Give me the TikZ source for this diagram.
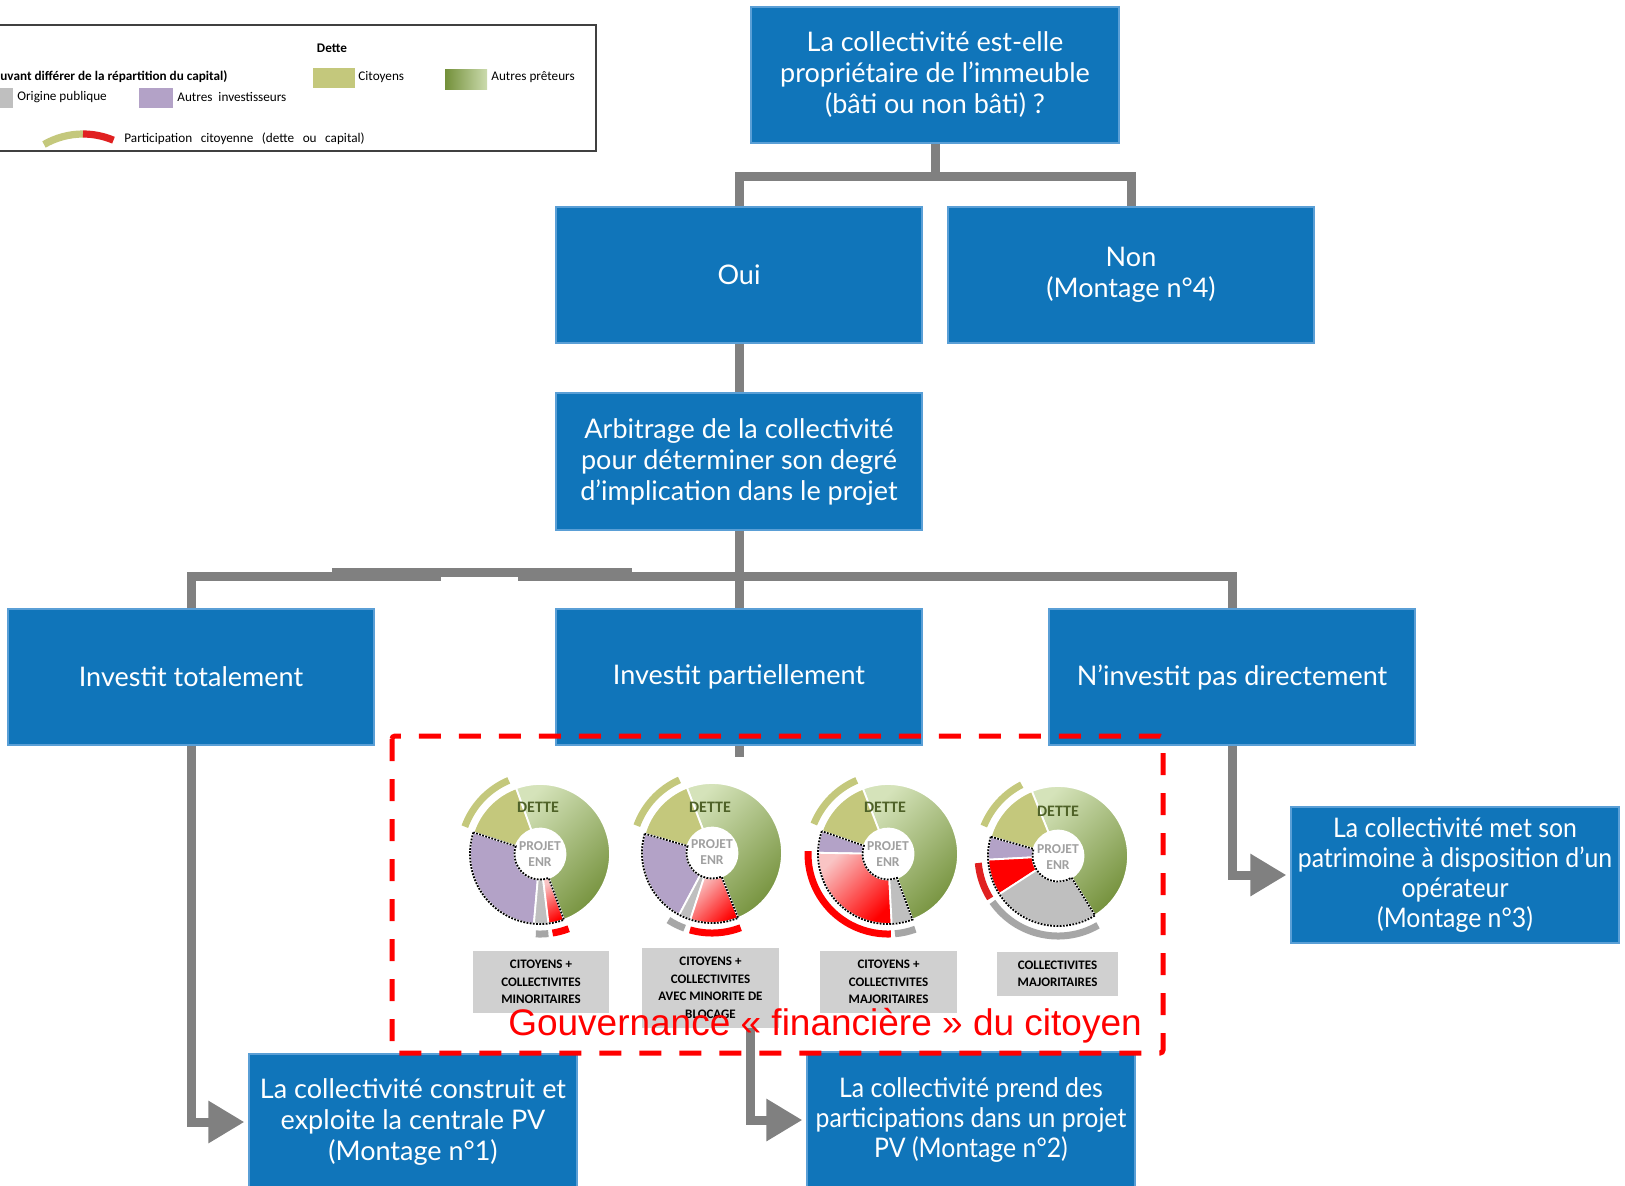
\documentclass[tikz,border=0pt]{standalone}
\usepackage{fontspec}
\setmainfont{Carlito}
\newfontfamily\boxfont{Lato}
\newfontfamily\boxfontn[FakeStretch=0.92]{Lato}
\newfontfamily\calib{Carlito}
\newfontfamily\arialf{Liberation Sans}
\usetikzlibrary{arrows.meta,calc}
\definecolor{bblue}{HTML}{1075BA}
\definecolor{bedge}{HTML}{5A9FD6}
\definecolor{cgray}{HTML}{808080}
\definecolor{olv}{HTML}{C4C87C}
\definecolor{glight}{HTML}{D5E3BA}
\definecolor{gdark}{HTML}{73903A}
\definecolor{purp}{HTML}{B3A2C7}
\definecolor{sgray}{HTML}{BFBFBF}
\definecolor{pinkl}{HTML}{F9C4C4}
\definecolor{mred}{HTML}{FF0000}
\definecolor{lred}{HTML}{E02020}
\definecolor{mgray}{HTML}{A6A6A6}
\definecolor{lgray}{HTML}{D0D0D0}
\definecolor{dolive}{HTML}{4F6228}
\definecolor{pgray}{HTML}{A0A0A0}
\newcommand\pseg[5]{%
  \path[#5] ($(#1,#2)+({-(#3)}:70)$) arc[start angle={-(#3)}, end angle={-(#4)}, radius=70]
    -- ($(#1,#2)+({-(#4)}:25.5)$) arc[start angle={-(#4)}, end angle={-(#3)}, radius=25.5] -- cycle;}
\newcommand\parc[5]{%
  \draw[#5] ($(#1,#2)+({-(#3)}:80)$) arc[start angle={-(#3)}, end angle={-(#4)}, radius=80];}
\tikzset{
  box/.style={fill=bblue, draw=bedge, line width=0.6pt, text=white, align=center,
    font={\boxfont\fontsize{13.5pt}{15.5pt}\selectfont}, inner sep=0pt, minimum height=68pt},
  boxn/.style={box, font={\boxfontn\fontsize{13.5pt}{15pt}\selectfont}},
  conn/.style={draw=cgray, line width=4.5pt},
  arr/.style={draw=cgray, line width=4.5pt, -{Triangle[length=18pt,width=20pt]}, shorten >=2pt},
  lab/.style={fill=lgray, font={\calib\bfseries\fontsize{6.5pt}{8.75pt}\selectfont}, align=center, inner sep=0pt},
  leg/.style={font={\calib\fontsize{6.6pt}{8pt}\selectfont}, inner sep=0pt, anchor=west},
  seg/.style={draw=white, line width=0.9pt},
  dots/.style={draw=black, line width=0.9pt, dash pattern=on 0.9pt off 0.7pt},
  mk/.style={line width=3.5pt},
  grn/.style={seg, top color=glight, middle color=gdark!60!glight, bottom color=gdark, shading angle=45},
  dette/.style={font={\calib\bfseries\fontsize{8pt}{9pt}\selectfont}, text=dolive, inner sep=0pt},
  proj/.style={font={\calib\bfseries\fontsize{6.8pt}{8.3pt}\selectfont}, text=pgray, align=center, inner sep=0pt}
}
\begin{document}
\begin{tikzpicture}[x=0.5pt, y=-0.5pt]
\useasboundingbox (0,0) rectangle (1625,1185);
\fill[white] (0,0) rectangle (1625,1185);

% ---- legend ----
\draw[black!75, line width=0.6pt] (-5,25) rectangle (596,151);
\node[font={\calib\bfseries\fontsize{6.6pt}{8pt}\selectfont}, inner sep=0pt] (ldette) at (332,48) {Dette};
\node[leg, font={\calib\bfseries\fontsize{6.6pt}{8pt}\selectfont}] (lcap) at (0,77) {uvant différer de la répartition du capital)};
\fill[sgray] (-2,88) rectangle (13,108);
\node[leg] (lpub) at (17,97) {Origine publique};
\fill[purp] (139,88) rectangle (173,108);
\node[leg] (linv) at (177,97) {Autres\hspace{0.45em}investisseurs};
\fill[olv] (313,68) rectangle (355,88);
\node[leg] (lcit) at (358,77) {Citoyens};
\shade[left color=gdark, middle color=gdark!55!glight, right color=glight!90!gdark] (445,69) rectangle (487,89);
\node[leg] (lpre) at (491,77) {Autres prêteurs};
\draw[mk, olv, line width=3.6pt] ($(83,212)+(-120:78)$) arc[start angle=-120, end angle=-90, radius=78];
\draw[mk, lred, line width=3.6pt] ($(83,212)+(-90:78)$) arc[start angle=-90, end angle=-67, radius=78];
\node[leg] (lpart) at (124,139) {\spaceskip=0.65em Participation citoyenne (dette ou capital)};

% ---- boxes ----
\node[box, minimum width=184pt] (q) at (935,75) {La collectivité est-elle\\propriétaire de l’immeuble\\(bâti ou non bâti) ?};
\node[box, minimum width=183pt] (oui) at (739,275) {Oui};
\node[box, minimum width=183pt] (non) at (1131,275) {Non\\(Montage n°4)};
\node[box, minimum width=183pt, minimum height=68.5pt] (arb) at (739,461.5) {Arbitrage de la collectivité\\pour déterminer son degré\\d’implication dans le projet};
\node[box, minimum width=183pt] (tot) at (191,677) {Investit totalement};
\node[box, minimum width=183pt] (part) at (739,677) {Investit partiellement};
\node[box, minimum width=183pt] (nin) at (1232,677) {N’investit pas directement};
\node[boxn, minimum width=164pt] (m3) at (1455,875) {La collectivité met son\\patrimoine à disposition d’un\\opérateur\\(Montage n°3)};
\node[box, minimum width=164pt] (m1) at (413,1122) {La collectivité construit et\\exploite la centrale PV\\(Montage n°1)};
\node[boxn, minimum width=164pt] (m2) at (971,1120) {La collectivité prend des\\participations dans un projet\\PV (Montage n°2)};

% ---- connectors ----
\coordinate (j1) at (935,176.5);
\coordinate (j2) at (739,576.5);
\draw[conn] (q.south) -- (j1);
\draw[conn] (oui.north) |- (j1) -| (non.north);
\draw[conn] (oui.south) -- (arb.north);
\draw[conn] (arb.south) -- (part.north);
\draw[conn] (tot.north) |- (j2) -| (nin.north);
\fill[cgray] (332,568) rectangle (632,581);
\fill[white] (441,576.5) rectangle (518,581.5);
\draw[conn] (part.south) -- ++(0,11);
\draw[arr] (tot.south) |- (m1.west);
\draw[arr] (nin.south) |- (m3.west);
\coordinate (s2) at (750,1026);
\draw[arr] (s2) |- (m2.west);

% ---- pie 1 ----
\pseg{540}{854}{-70}{110}{grn}
\pseg{540}{854}{110}{162}{seg, fill=olv}
\pseg{540}{854}{162}{265}{seg, fill=purp}
\pseg{540}{854}{265}{277}{seg, fill=sgray}
\pseg{540}{854}{277}{290}{seg, top color=pinkl, bottom color=mred, shading angle=30}
\pseg{540}{854}{162}{290}{dots}
\parc{540}{854}{113}{160}{mk, olv}
\parc{540}{854}{267}{276}{mk, mgray}
\parc{540}{854}{279}{291}{mk, mred}
% ---- pie 2 ----
\pseg{712}{853}{-68}{111}{grn}
\pseg{712}{853}{111}{164}{seg, fill=olv}
\pseg{712}{853}{164}{242}{seg, fill=purp}
\pseg{712}{853}{242}{252}{seg, fill=sgray}
\pseg{712}{853}{252}{292}{seg, top color=pinkl, bottom color=mred, shading angle=45}
\pseg{712}{853}{164}{292}{dots}
\parc{712}{853}{114}{160}{mk, olv}
\parc{712}{853}{237}{250}{mk, mgray}
\parc{712}{853}{254}{291}{mk, mred}
% ---- pie 3 ----
\pseg{888}{854}{-69.5}{111}{grn}
\pseg{888}{854}{111}{161}{seg, fill=olv}
\pseg{888}{854}{161}{179}{seg, fill=purp}
\pseg{888}{854}{179}{273}{seg, top color=pinkl, bottom color=mred, shading angle=45}
\pseg{888}{854}{273}{290.5}{seg, fill=sgray}
\pseg{888}{854}{161}{290.5}{dots}
\parc{888}{854}{113}{158}{mk, olv}
\parc{888}{854}{178}{272}{mk, mred}
\parc{888}{854}{275}{290}{mk, mgray}
% ---- pie 4 ----
\pseg{1058}{856}{-58}{112}{grn}
\pseg{1058}{856}{112}{164}{seg, fill=olv}
\pseg{1058}{856}{164}{183}{seg, fill=purp}
\pseg{1058}{856}{183}{213}{seg, fill=mred}
\pseg{1058}{856}{213}{302}{seg, fill=sgray}
\pseg{1058}{856}{164}{302}{dots}
\parc{1058}{856}{117}{158}{mk, olv}
\parc{1058}{856}{185}{212}{mk, lred}
\parc{1058}{856}{215}{300}{mk, mgray}

% ---- pie texts ----
\node[dette] (d1) at (538,807) {DETTE};
\node[dette] (d2) at (710,807) {DETTE};
\node[dette] (d3) at (885,807) {DETTE};
\node[dette] (d4) at (1058,811) {DETTE};
\node[proj] (p1) at (540,854) {PROJET\\ENR};
\node[proj] (p2) at (712,852) {PROJET\\ENR};
\node[proj] (p3) at (888,854) {PROJET\\ENR};
\node[proj] (p4) at (1058,857) {PROJET\\ENR};

% ---- labels ----
\node[lab, minimum width=68pt, minimum height=31pt] (l1) at (541,982) {CITOYENS +\\COLLECTIVITES\\MINORITAIRES};
\node[lab, minimum width=68.5pt, minimum height=40pt] (l2) at (710.5,988) {CITOYENS +\\COLLECTIVITES\\AVEC MINORITE DE\\BLOCAGE};
\node[lab, minimum width=68.5pt, minimum height=31pt] (l3) at (888.5,982) {CITOYENS +\\COLLECTIVITES\\MAJORITAIRES};
\node[lab, minimum width=60.5pt, minimum height=22pt] (l4) at (1057.5,974) {COLLECTIVITES\\MAJORITAIRES};

\node[anchor=base, text=mred, inner sep=0pt, font={\arialf\fontsize{18.5pt}{22pt}\selectfont}] (gov) at (825,1035) {Gouvernance « financière » du citoyen};
\draw[mred, line width=2.5pt, dash pattern=on 11pt off 9pt, rounded corners=1.5pt] (392,736) rectangle (1163,1053);
\end{tikzpicture}
\end{document}
